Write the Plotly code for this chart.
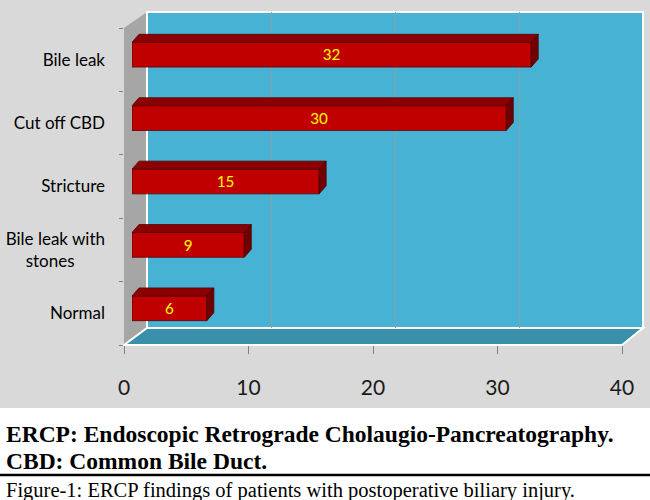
import plotly.graph_objects as go

# data (top to bottom as shown)
categories = ["Bile leak", "Cut off CBD", "Stricture", "Bile leak with stones", "Normal"]
values = [32, 30, 15, 9, 6]
tick_vals = [0, 10, 20, 30, 40]

W, H = 650, 500


def px(x):
    return x / W


def py(y):
    return 1 - y / H


n = len(categories)
pos = [n - 1 - i for i in range(n)]  # first category at top
labels = [c if c != "Bile leak with stones" else "Bile leak with<br>stones" + "&nbsp;" * 7
          for c in categories]

bar_w = 0.39
dx = 7 / 12.475   # depth of the bars in x units
dy = 8 / 63.4     # depth of the bars in y units

# top and side faces of the 3d bars
top_x, top_y, side_x, side_y = [], [], [], []
for v, p in zip(values, pos):
    yt = p + bar_w / 2
    yb = p - bar_w / 2
    top_x += [0, v, v + dx, dx, 0, None]
    top_y += [yt, yt, yt + dy, yt + dy, yt, None]
    side_x += [v, v + dx, v + dx, v, v, None]
    side_y += [yb, yb + dy, yt + dy, yt, yb, None]

fig = go.Figure()

# back wall subplot (gridlines)
fig.add_trace(go.Scatter(x=[None], y=[None], xaxis="x", yaxis="y",
                         showlegend=False, hoverinfo="skip"))
# front frame subplot (ticks and labels)
fig.add_trace(go.Scatter(x=[None], y=[None], xaxis="x2", yaxis="y2",
                         showlegend=False, hoverinfo="skip"))

# bars
fig.add_trace(go.Bar(
    x=values, y=pos, orientation="h", width=bar_w,
    xaxis="x3", yaxis="y3",
    marker=dict(color="#c00000", line=dict(color="#5a0000", width=0.8)),
    text=[str(v) for v in values], textposition="inside",
    insidetextanchor="middle", textangle=0,
    textfont=dict(family="Lato", size=17, color="#ffff00"),
    showlegend=False, hoverinfo="skip"))
fig.add_trace(go.Scatter(x=top_x, y=top_y, xaxis="x3", yaxis="y3", mode="lines",
                         fill="toself", fillcolor="#8b0000",
                         line=dict(color="#5a0000", width=0.8),
                         showlegend=False, hoverinfo="skip"))
fig.add_trace(go.Scatter(x=side_x, y=side_y, xaxis="x3", yaxis="y3", mode="lines",
                         fill="toself", fillcolor="#700000",
                         line=dict(color="#4a0000", width=0.8),
                         showlegend=False, hoverinfo="skip"))

shapes = [
    # grey chart area
    dict(type="rect", xref="paper", yref="paper", x0=0, x1=1, y0=py(408), y1=1,
         fillcolor="#d9d9d9", line=dict(width=0), layer="below"),
    # side wall
    dict(type="path", xref="paper", yref="paper",
         path=f"M {px(124)},{py(28)} L {px(147)},{py(12)} L {px(147)},{py(328)} L {px(124)},{py(345)} Z",
         fillcolor="#a6a6a6", line=dict(width=0), layer="below"),
    # back wall
    dict(type="rect", xref="paper", yref="paper", x0=px(147), x1=px(643), y0=py(328), y1=py(12),
         fillcolor="#47b2d3", line=dict(color="white", width=2), layer="below"),
    # floor
    dict(type="path", xref="paper", yref="paper",
         path=f"M {px(124)},{py(345)} L {px(622)},{py(345)} L {px(643)},{py(328)} L {px(147)},{py(328)} Z",
         fillcolor="#3a8faa", line=dict(color="white", width=2), layer="below"),
    # rule above the caption
    dict(type="line", xref="paper", yref="paper", x0=0, x1=1, y0=py(475), y1=py(475),
         line=dict(color="black", width=2.5)),
]

annotations = [
    dict(text="<b>ERCP: Endoscopic Retrograde Cholaugio-Pancreatography.</b>",
         x=px(4), y=py(434), xanchor="left", yanchor="middle"),
    dict(text="<b>CBD: Common Bile Duct.</b>",
         x=px(4), y=py(461), xanchor="left", yanchor="middle"),
]
for a in annotations:
    a.update(xref="paper", yref="paper", showarrow=False,
             font=dict(family="Liberation Serif", size=23.5, color="black"))
annotations.append(dict(text="Figure-1: ERCP findings of patients with postoperative biliary injury.",
                        x=px(4), y=py(490), xanchor="left", yanchor="middle",
                        xref="paper", yref="paper", showarrow=False,
                        font=dict(family="Liberation Serif", size=20.5, color="black")))

fig.update_layout(
    width=W, height=H, autosize=False,
    margin=dict(l=0, r=0, t=0, b=0),
    paper_bgcolor="white", plot_bgcolor="rgba(0,0,0,0)",
    shapes=shapes, annotations=annotations,
    showlegend=False,
    xaxis=dict(domain=[px(147), px(643)], range=[0, 40], tickvals=[10, 20, 30],
               showgrid=True, gridcolor="#86a3a3", gridwidth=1, zeroline=False,
               showticklabels=False, ticks="", showline=False, anchor="y", automargin=False),
    yaxis=dict(domain=[py(328), py(12)], range=[0, 1], visible=False, anchor="x", automargin=False),
    xaxis2=dict(domain=[px(124), px(622)], range=[0, 40], tickvals=tick_vals,
                ticks="outside", ticklen=8, tickcolor="#808080", showgrid=False,
                zeroline=False, showline=False, anchor="y2", ticklabelstandoff=16,
                automargin=False,
                tickfont=dict(family="Lato", size=21, color="#1a1a1a")),
    yaxis2=dict(domain=[py(345), py(28)], range=[-0.5, n - 0.5], tickvals=pos,
                ticktext=labels, ticks="", showgrid=False, zeroline=False,
                showline=False, anchor="x2", ticklabelstandoff=18, automargin=False,
                minor=dict(tickvals=[i - 0.5 for i in range(n + 1)], ticks="outside",
                           ticklen=4, tickcolor="#808080"),
                tickfont=dict(family="Lato", size=17, color="black")),
    xaxis3=dict(domain=[px(132), px(631)], range=[0, 40], visible=False, anchor="y3",
                automargin=False),
    yaxis3=dict(domain=[py(340), py(23)], range=[-0.5, n - 0.5], visible=False, anchor="x3",
                automargin=False),
)

fig.write_html("out.html", config={"displayModeBar": False},
               post_script="document.body.style.margin='0px';")
